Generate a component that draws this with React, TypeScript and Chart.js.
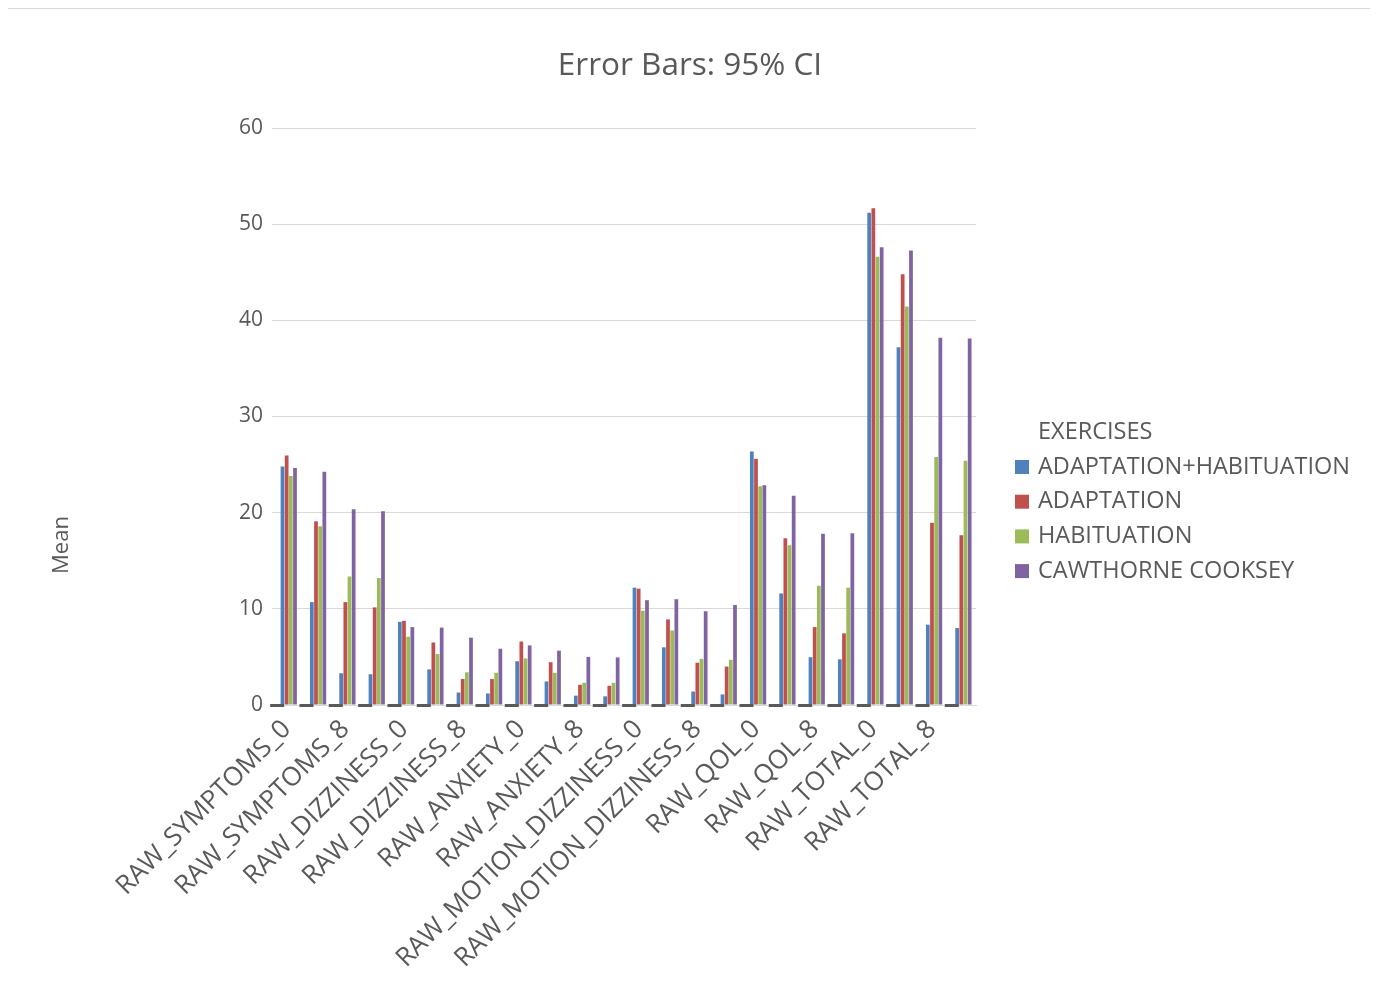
import React, { useEffect, useRef } from "react";
import { Chart, registerables } from "chart.js";

Chart.register(...registerables);

const TITLE = "Error Bars: 95% CI";
const Y_TITLE = "Mean";
const LEGEND_TITLE = "EXERCISES";

const measures = [
  "RAW_SYMPTOMS_0",
  "RAW_SYMPTOMS_8",
  "RAW_DIZZINESS_0",
  "RAW_DIZZINESS_8",
  "RAW_ANXIETY_0",
  "RAW_ANXIETY_8",
  "RAW_MOTION_DIZZINESS_0",
  "RAW_MOTION_DIZZINESS_8",
  "RAW_QOL_0",
  "RAW_QOL_8",
  "RAW_TOTAL_0",
  "RAW_TOTAL_8",
];
// 24 categories on the axis; only every other one carries a visible label
const categories = measures.flatMap((m) => [m, ""]);

const seriesNames = ["ADAPTATION+HABITUATION", "ADAPTATION", "HABITUATION", "CAWTHORNE COOKSEY"];
const seriesColors = ["#4F81BD", "#C0504D", "#9BBB59", "#8064A2"];

const adaptHabit = [24.8, 10.7, 3.3, 3.2, 8.65, 3.7, 1.3, 1.2, 4.55, 2.45, 0.97, 0.9, 12.2, 6.0, 1.4, 1.1, 26.35, 11.6, 4.97, 4.75, 51.2, 37.2, 8.35, 8.0];
const adaptation = [25.95, 19.1, 10.7, 10.15, 8.75, 6.5, 2.7, 2.7, 6.6, 4.45, 2.1, 2.0, 12.1, 8.9, 4.4, 4.0, 25.6, 17.35, 8.1, 7.45, 51.65, 44.8, 18.95, 17.65];
const habituation = [23.8, 18.6, 13.35, 13.2, 7.1, 5.3, 3.4, 3.35, 4.85, 3.35, 2.3, 2.3, 9.8, 7.75, 4.8, 4.7, 22.75, 16.6, 12.4, 12.2, 46.6, 41.45, 25.8, 25.4];
const cawthorne = [24.65, 24.25, 20.35, 20.15, 8.1, 8.05, 7.0, 5.85, 6.2, 5.65, 5.0, 4.95, 10.9, 11.0, 9.75, 10.4, 22.85, 21.75, 17.8, 17.85, 47.6, 47.25, 38.2, 38.1];
const seriesValues = [adaptHabit, adaptation, habituation, cawthorne];

const yTicks = [0, 10, 20, 30, 40, 50, 60];

const FONT = "'Open Sans', sans-serif";
const TEXT = "#595959";
const GRID = "#d9d9d9";

export default function App() {
  const ref = useRef<HTMLCanvasElement>(null);

  useEffect(() => {
    document.documentElement.style.overflow = "hidden";
    document.body.style.overflow = "hidden";
    const canvas = ref.current;
    if (!canvas) return;

    const decor = {
      id: "decor",
      afterDatasetsDraw(chart: any) {
        const ctx = chart.ctx;
        const y0 = chart.scales.y.getPixelForValue(0);
        const meta = chart.getDatasetMeta(1);
        ctx.save();
        ctx.fillStyle = "#595959";
        meta.data.forEach((bar: any) => {
          const left = bar.x - bar.width / 2;
          ctx.fillRect(left - 10.5, y0 - 1, 14, 3);
        });
        ctx.restore();
      },
      afterDraw(chart: any) {
        const ctx = chart.ctx;
        ctx.save();
        ctx.fillStyle = TEXT;
        ctx.font = `31.5px ${FONT}`;
        ctx.textAlign = "center";
        ctx.textBaseline = "middle";
        ctx.fillText(TITLE, chart.width / 2 - 2, 57);

        ctx.save();
        ctx.translate(53, 536);
        ctx.rotate(-Math.PI / 2);
        ctx.font = `22px ${FONT}`;
        ctx.fillText(Y_TITLE, 0, 0);
        ctx.restore();

        ctx.textAlign = "left";
        ctx.font = `23.5px ${FONT}`;
        ctx.fillText(LEGEND_TITLE, 1029, 423);
        seriesNames.forEach((name, i) => {
          const y = 458 + i * 34.7;
          ctx.fillStyle = seriesColors[i];
          ctx.fillRect(1006, y - 7, 14, 14);
          ctx.fillStyle = TEXT;
          ctx.fillText(name, 1029, y);
        });
        ctx.restore();
      },
    };

    const datasets: any[] = [
      {
        label: "",
        data: categories.map(() => null),
        backgroundColor: "rgba(0,0,0,0)",
      },
      ...seriesNames.map((name, i) => ({
        label: name,
        data: seriesValues[i],
        backgroundColor: seriesColors[i],
        borderWidth: 0,
      })),
    ];

    const chart = new Chart(canvas, {
      type: "bar",
      data: { labels: categories, datasets },
      options: {
        responsive: false,
        maintainAspectRatio: false,
        animation: false,
        layout: { padding: { left: 0, top: 119, right: 399, bottom: 0 } },
        datasets: { bar: { categoryPercentage: 0.71, barPercentage: 0.9 } },
        plugins: {
          legend: { display: false },
          title: { display: false },
          tooltip: { enabled: false },
        },
        scales: {
          x: {
            grid: { display: false, drawTicks: false },
            border: { display: true, color: GRID, width: 1 },
            afterFit: (s: any) => {
              s.height = 287;
            },
            ticks: {
              autoSkip: false,
              maxRotation: 45,
              minRotation: 45,
              padding: 9,
              color: TEXT,
              font: { family: FONT, size: 26 },
              callback: (_v: any, i: number) => categories[i],
            },
          },
          y: {
            min: yTicks[0],
            max: yTicks[yTicks.length - 1],
            afterFit: (s: any) => {
              s.width = 263;
            },
            afterBuildTicks: (s: any) => {
              s.ticks = yTicks.map((v) => ({ value: v }));
            },
            grid: { color: GRID, lineWidth: 1, drawTicks: false },
            border: { display: false },
            ticks: {
              padding: 9,
              color: TEXT,
              font: { family: FONT, size: 21 },
            },
          },
        },
      },
      plugins: [decor],
    });

    return () => chart.destroy();
  }, []);

  return (
    <div
      style={{
        width: 1368,
        height: 984,
        marginLeft: -3,
        borderLeft: "1px solid #d9d9d9",
        borderRight: "1px solid #d9d9d9",
        borderTop: "1px solid #d9d9d9",
        background: "#fff",
        boxSizing: "content-box",
      }}
    >
      <canvas
        ref={ref}
        width={1366}
        height={983}
        style={{ display: "block", width: 1366, height: 983, marginLeft: 3 }}
      />
    </div>
  );
}
